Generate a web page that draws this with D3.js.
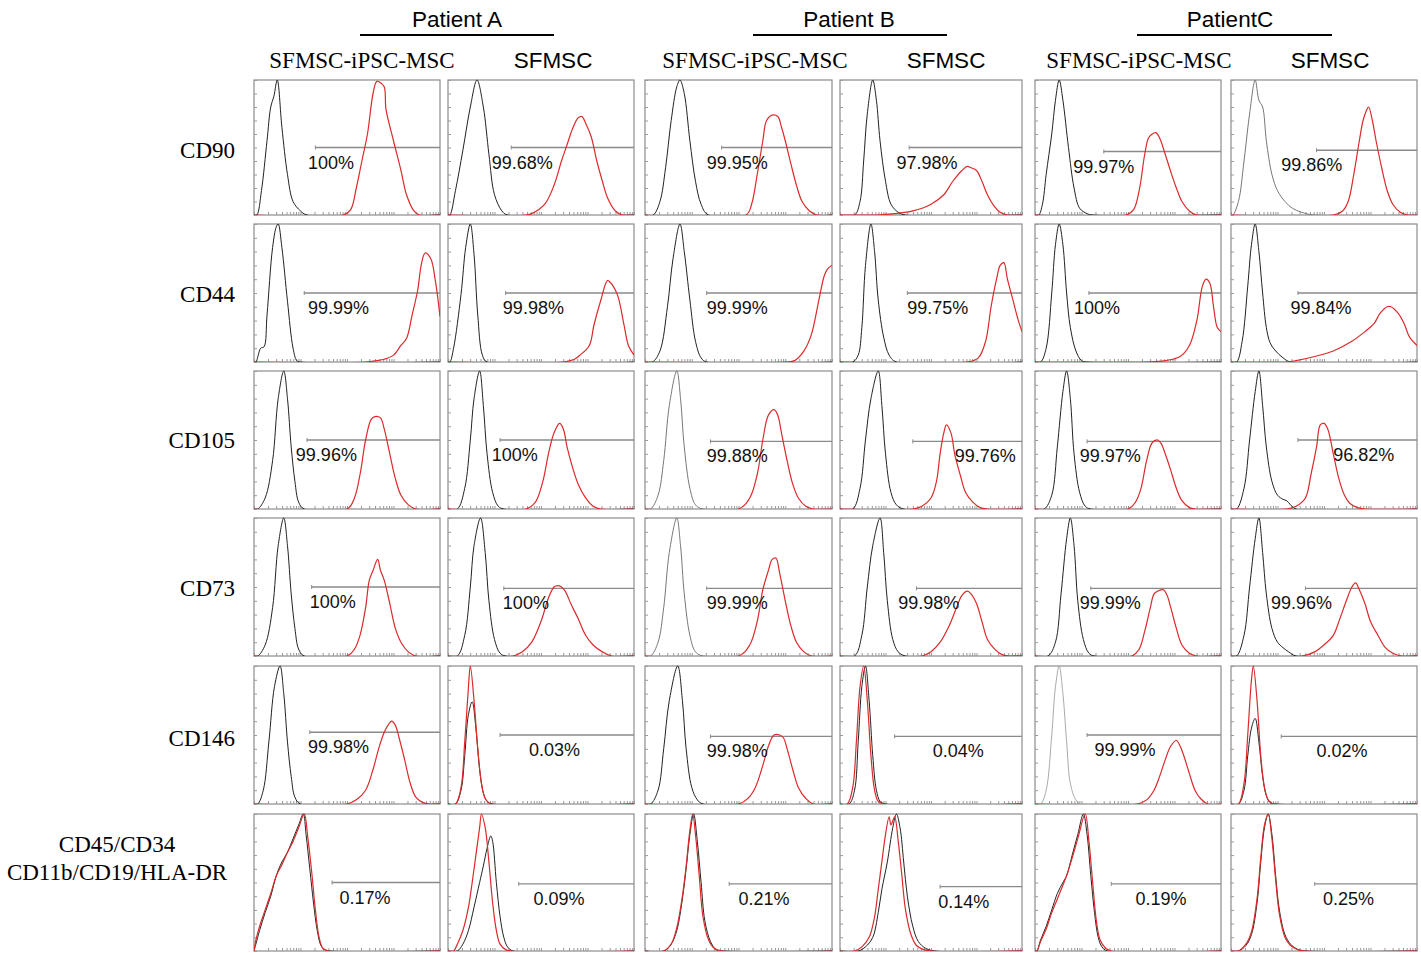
<!DOCTYPE html>
<html>
<head>
<meta charset="utf-8">
<script src="https://cdn.jsdelivr.net/npm/d3@7/dist/d3.min.js"></script>
<style>
  body { margin: 0; background: #fff; }
</style>
</head>
<body>
<div id="vis"></div>
<script>
// Flow cytometry overlays: isotype control (black) vs marker (red)
// x = fluorescence channel (0-100, log axis), y = % of max count

var patients = ["Patient A", "Patient B", "PatientC"];
var samples = ["SFMSC-iPSC-MSC", "SFMSC", "SFMSC-iPSC-MSC", "SFMSC", "SFMSC-iPSC-MSC", "SFMSC"];
var markers = ["CD90", "CD44", "CD105", "CD73", "CD146", "CD45/CD34\nCD11b/CD19/HLA-DR"];

var percents = [
    ["100%", "99.68%", "99.95%", "97.98%", "99.97%", "99.86%"],
    ["99.99%", "99.98%", "99.99%", "99.75%", "100%", "99.84%"],
    ["99.96%", "100%", "99.88%", "99.76%", "99.97%", "96.82%"],
    ["100%", "100%", "99.99%", "99.98%", "99.99%", "99.96%"],
    ["99.98%", "0.03%", "99.98%", "0.04%", "99.99%", "0.02%"],
    ["0.17%", "0.09%", "0.21%", "0.14%", "0.19%", "0.25%"]
];

// gate start (channel) and gate level (% of max)
var gateStart = [
    [33, 34, 41, 38, 37, 46],
    [27, 31, 33, 37, 29, 36],
    [28.5, 28, 35, 40, 28, 36],
    [31, 30, 33, 42, 30, 40],
    [30, 28, 35, 30, 28, 27],
    [42, 38, 45, 55, 41, 45]
];
var gateLevel = [
    [50, 50, 50, 50, 47, 48],
    [50, 50, 50, 50, 50, 50],
    [50, 50, 49, 49, 49, 50],
    [50, 49, 49, 49, 49, 49],
    [52, 50, 49, 49, 50, 49],
    [50, 49, 49, 47, 49, 49]
];

// isotype control histograms
var controlCurves = [
    [
        [[1.5,0],[4,18],[7,55],[9,80],[10.7,88],[12.5,100],[15,65],[18,30],[21,10],[25,3],[28.5,0]],
        [[1,0],[4,18],[8,48],[12,80],[15.6,100],[19,80],[22,45],[25,15],[29,3],[32,0]],
        [[4.4,0],[8,10],[11,35],[14,70],[17,95],[18.7,100],[21,90],[24,55],[27,25],[30,8],[34,0]],
        [[8,0],[11,10],[13,40],[15,75],[18,100],[20,85],[22,55],[25,25],[28,8],[32,2],[36,0]],
        [[2,0],[4,8],[6,30],[9,60],[11,85],[13,100],[15,85],[18,50],[21,20],[24,5],[28,1],[31,0]],
        [[1,0],[4,10],[7,40],[10,75],[13,100],[15,85],[17,80],[19,55],[22,30],[25,18],[29,10],[33,5],[38,2],[45,0]]
    ],
    [
        [[1,0],[3.6,10],[5.4,11],[7,34],[10,83],[12,98],[13,100],[15,83],[18,44],[21,10],[23,1],[25,0]],
        [[1,0],[3,10],[7,49],[9.5,83],[12,100],[14,78],[16,34],[18.5,5],[21,0]],
        [[4,0],[8,8],[12,40],[15,75],[18.7,100],[21,80],[24,45],[27,15],[30,3],[33,0]],
        [[7,0],[10,5],[12,25],[14,70],[17,100],[19,80],[21,45],[24,18],[27,5],[31,0]],
        [[3,0],[6,10],[9,50],[11,85],[13,100],[15,85],[17,50],[19,25],[22,8],[25,1],[28,0]],
        [[3,0],[6,15],[9,55],[11,85],[13,100],[15,80],[17,50],[19,25],[21,14],[24,8],[28,3],[32,0]]
    ],
    [
        [[2,0],[6,8],[10,35],[13,80],[16,100],[18,80],[20,45],[22,20],[24,5],[27,0]],
        [[5,0],[9,15],[12,50],[14,80],[17,100],[19,75],[21,40],[24,12],[27,2],[30,0]],
        [[3,0],[7,10],[10,35],[13,75],[17,100],[19,80],[21,45],[24,15],[27,3],[31,0]],
        [[7,0],[11,15],[14,50],[17,80],[21,100],[23,75],[25,40],[28,12],[31,3],[35,0]],
        [[5,0],[9,10],[12,45],[15,85],[17,100],[19,80],[21,40],[24,12],[27,2],[30,0]],
        [[3,0],[7,15],[10,50],[13,85],[15,100],[17,75],[19,45],[22,20],[25,10],[28,7],[30,6],[32,3],[35,0]]
    ],
    [
        [[2,0],[6,8],[10,35],[13,80],[16,100],[18,80],[20,45],[22,20],[24,5],[27,0]],
        [[5,0],[9,15],[12,50],[14,80],[17.5,100],[20,75],[22,40],[25,12],[28,2],[31,0]],
        [[3,0],[7,10],[10,35],[13,75],[17,100],[19,80],[21,45],[24,15],[27,3],[31,0]],
        [[8,0],[12,15],[15,50],[18,80],[22,100],[24,75],[26,40],[29,12],[32,3],[36,0]],
        [[7,0],[11,10],[14,45],[17,85],[19,100],[21,80],[23,40],[26,12],[29,2],[32,0]],
        [[3,0],[7,15],[10,50],[13,85],[15,100],[17,75],[19,45],[22,20],[25,10],[28,6],[31,3],[35,0]]
    ],
    [
        [[2,0],[5,10],[8,45],[11,85],[14,100],[16,80],[18,45],[20,20],[22,5],[25,0]],
        [[4,0],[7,10],[9,35],[11,65],[13,74],[15,55],[17,25],[19,8],[21,2],[24,0]],
        [[3,0],[7,10],[10,40],[13,75],[17.5,100],[20,75],[22,40],[25,12],[28,3],[31,0]],
        [[5,0],[8,10],[10,45],[12,85],[14,100],[16,75],[18,35],[20,10],[22,2],[25,0]],
        [[3,0],[6,10],[9,50],[11,85],[13,100],[15,80],[17,45],[19,15],[22,3],[25,0]],
        [[4,0],[7,10],[9,35],[11,55],[13,62],[15,45],[17,20],[19,6],[21,1],[24,0]]
    ],
    [
        [[0,0],[1,5],[3,15],[6,28],[9,40],[12,55],[15,65],[18,72],[21,82],[24,92],[26.5,100],[28,85],[30,60],[32,35],[34,15],[36,4],[38,1],[41,0]],
        [[5,0],[8,5],[11,15],[14,32],[17,50],[19,62],[21,75],[23,84],[24,80],[26,50],[28,25],[30,10],[32,3],[35,0]],
        [[10,0],[14,5],[17,15],[20,38],[22,60],[24,85],[26,100],[28,80],[30,50],[32,22],[35,7],[38,1],[42,0]],
        [[10,0],[14,3],[18,10],[21,28],[23,45],[26,65],[29,90],[31,100],[33,90],[35,65],[37,40],[40,18],[43,7],[47,2],[52,0]],
        [[1,0],[3,8],[6,18],[9,30],[12,42],[15,50],[17,55],[20,70],[23,85],[26,100],[28,85],[30,55],[32,28],[34,10],[36,3],[39,0]],
        [[4,0],[8,4],[11,12],[14,35],[16,65],[18,90],[20,100],[22,85],[24,55],[26,30],[29,12],[32,5],[36,1],[40,0]]
    ]
];

// marker-stained histograms
var markerCurves = [
    [
        [[48,0],[52,4],[55,20],[58,40],[61,60],[64,90],[66,99],[68,98],[70,95],[71,78],[75,55],[79,33],[82,15],[86,3],[89,0]],
        [[42,0],[45,1],[52,8],[57,22],[61,40],[64,52],[67,64],[70,72],[72,73],[74,68],[77,58],[80,40],[83,25],[86,12],[90,3],[94,0]],
        [[54,0],[57,8],[60,30],[63,55],[65,70],[68,74],[71,73],[73,65],[75,55],[78,38],[81,22],[84,10],[88,3],[92,0]],
        [[20,0],[30,1],[40,3],[50,8],[57,15],[62,25],[67,33],[70,36],[72,35],[75,33],[78,25],[81,15],[85,6],[88,2],[92,0]],
        [[49,0],[53,4],[56,18],[59,45],[61,57],[63,60],[65,61],[67,57],[70,45],[73,32],[76,20],[79,10],[83,3],[87,0]],
        [[55,0],[60,3],[63,10],[66,30],[69,55],[71,70],[73,78],[74,80],[76,70],[78,55],[81,35],[84,18],[87,8],[91,2],[95,0]]
    ],
    [
        [[60,0],[66,1],[70,2],[75,5],[79,12],[82,17],[85,34],[88,52],[90,71],[92,79],[95,75],[97.6,58],[100,33]],
        [[62,0],[68,2],[71,5],[76,12],[78.5,27],[82,44],[85.7,59],[87,58],[91,49],[94.6,27],[97,12],[100,5]],
        [[75,0],[80,1],[85,8],[89,20],[93,45],[96,63],[98,68],[100,70]],
        [[70,0],[76,3],[80,15],[83,40],[86,60],[88,70],[90,72],[92,60],[95,45],[98,30],[100,22]],
        [[60,0],[70,1],[78,4],[83,12],[87,30],[90,55],[92,60],[94,57],[96,40],[98,25],[100,22]],
        [[30,0],[35,1],[45,4],[55,8],[65,15],[72,22],[77,28],[80,35],[84,40],[86,40],[90,35],[93,28],[96,18],[100,12]]
    ],
    [
        [[50,0],[54,8],[57,25],[60,50],[63,65],[65,67],[68,66],[70,58],[73,40],[76,22],[79,10],[83,3],[87,0]],
        [[42,0],[47,5],[51,20],[54,40],[57,55],[60,62],[62,58],[64,45],[67,30],[70,18],[74,8],[78,2],[82,0]],
        [[50,0],[56,8],[60,25],[63,50],[66,68],[69,72],[71,68],[73,55],[76,35],[79,18],[82,8],[86,2],[90,0]],
        [[40,0],[45,2],[50,8],[53,20],[55,40],[57,55],[58.5,61],[61,55],[63,40],[66,25],[69,12],[73,5],[77,1],[81,0]],
        [[50,0],[54,5],[57,15],[60,35],[63,48],[66,50],[68,47],[70,40],[73,28],[76,15],[79,6],[83,1],[86,0]],
        [[30,0],[35,2],[40,8],[43,25],[46,45],[48,61],[50,62],[52,58],[55,40],[58,22],[61,10],[64,4],[68,1],[72,0]]
    ],
    [
        [[50,0],[54,5],[57,15],[60,35],[62,55],[64,62],[66.5,70],[68,62],[70,55],[73,38],[76,20],[79,10],[83,3],[87,0]],
        [[35,0],[40,3],[45,10],[50,25],[54,42],[57,50],[59,51],[61,50],[63,47],[66,38],[70,27],[74,15],[78,8],[83,3],[88,0]],
        [[50,0],[56,8],[60,25],[63,48],[66,62],[68,70],[70,71],[72,60],[75,40],[78,22],[81,10],[85,3],[89,0]],
        [[45,0],[50,3],[55,10],[60,22],[64,35],[67,44],[70,47],[72,45],[75,38],[78,25],[81,12],[85,5],[89,1],[93,0]],
        [[52,0],[56,5],[59,18],[62,35],[64,45],[66,47],[69,48],[71,44],[73,35],[76,20],[79,8],[83,2],[87,0]],
        [[38,0],[45,3],[50,8],[55,15],[58,25],[62,40],[65,50],[67,53],[69,48],[72,38],[75,25],[79,15],[83,6],[87,2],[92,0]]
    ],
    [
        [[50,0],[55,3],[60,10],[64,25],[67,40],[70,52],[72,57],[74,60],[76,57],[78,48],[81,32],[84,15],[87,5],[91,1],[94,0]],
        [[4,0],[7,12],[9,45],[11,85],[12,100],[14,75],[16,40],[18,15],[20,4],[23,0]],
        [[50,0],[55,4],[59,12],[63,28],[66,42],[69,50],[72,50],[74,48],[76,40],[79,25],[82,12],[86,4],[90,0]],
        [[4,0],[7,12],[9,45],[11,85],[13,100],[15,75],[17,35],[19,10],[21,2],[24,0]],
        [[55,0],[60,3],[64,10],[67,20],[70,32],[73,42],[76,46],[78,42],[80,35],[83,22],[86,10],[89,4],[93,0]],
        [[4,0],[7,15],[9,50],[11,90],[12,100],[14,75],[16,35],[18,12],[20,3],[23,0]]
    ],
    [
        [[0,0],[1,8],[3,18],[6,30],[9,42],[12,55],[15,63],[18,72],[21,80],[24,90],[27,100],[29,82],[31,58],[33,30],[35,10],[37,2],[40,0]],
        [[3,0],[5,5],[8,15],[11,32],[13,50],[15,70],[17,90],[18,100],[20,90],[22,65],[24,35],[26,15],[28,5],[31,1],[34,0]],
        [[10,0],[14,5],[17,17],[20,40],[22,62],[24,88],[25.5,100],[27,85],[29,55],[31,25],[34,8],[37,2],[41,0]],
        [[8,0],[12,3],[16,10],[19,25],[21,45],[23,65],[25,85],[27,98],[28,92],[30,98],[32,80],[34,55],[36,30],[39,12],[42,4],[46,1],[50,0]],
        [[1,0],[3,7],[6,16],[9,28],[12,38],[15,48],[17,55],[20,68],[23,82],[27,100],[29,80],[31,50],[33,22],[35,8],[38,2],[41,0]],
        [[4,0],[8,5],[11,14],[14,38],[16,68],[18,92],[20,100],[22,82],[24,52],[26,27],[29,10],[32,4],[36,1],[40,0]]
    ]
];

////////////////////////////////////////////////////////////
// layout

var colX = [254, 448, 645, 840, 1035, 1231];
var colW = [186, 186, 187, 182, 186, 186];
var rowY = [80, 224, 371, 518, 666, 814];
var rowH = [135, 138, 138, 138, 138, 137];

// where each % label starts, as share of panel width
var labelPos = [
    [29, 23.5, 33, 31, 20.5, 27],
    [29, 29.5, 33, 37, 21, 32],
    [22.5, 23.5, 33, 63, 24, 55],
    [30, 29.5, 33, 32, 24, 21.5],
    [29, 43.5, 33, 51, 32, 46],
    [46, 46, 50, 54, 54, 49.5]
];

// control curves drawn in gray in these panels
var grayControl = { "0-5": "#777", "2-2": "#777", "3-2": "#777", "4-4": "#aaa" };

var serif = "'Liberation Serif', 'Times New Roman', serif";
var sans = "'Liberation Sans', Arial, sans-serif";

var svg = d3.select("#vis")
    .append("svg")
    .attr("width", 1421)
    .attr("height", 953);

// headers
var patientCenter = [457, 849, 1230];
var lineSpan = [[360, 554], [753, 947], [1137, 1332]];

patients.forEach(function(p, i) {
    svg.append("text")
        .attr("x", patientCenter[i])
        .attr("y", 27)
        .attr("text-anchor", "middle")
        .style("font-family", sans)
        .style("font-size", "22.5px")
        .text(p);
    svg.append("line")
        .attr("x1", lineSpan[i][0]).attr("x2", lineSpan[i][1])
        .attr("y1", 35).attr("y2", 35)
        .attr("stroke", "#000")
        .attr("stroke-width", 2);
});

var sampleCenter = [362, 553, 755, 946, 1139, 1330];
samples.forEach(function(s, i) {
    svg.append("text")
        .attr("x", sampleCenter[i])
        .attr("y", 68)
        .attr("text-anchor", "middle")
        .style("font-family", i % 2 == 0 ? serif : sans)
        .style("font-size", i % 2 == 0 ? "23px" : "22.5px")
        .text(s);
});

// row labels
var labelBase = [158, 302, 448, 596, 746];
markers.forEach(function(m, r) {
    if (r < 5) {
        svg.append("text")
            .attr("x", 235)
            .attr("y", labelBase[r])
            .attr("text-anchor", "end")
            .style("font-family", serif)
            .style("font-size", "23px")
            .text(m);
    } else {
        m.split("\n").forEach(function(line, k) {
            svg.append("text")
                .attr("x", 117)
                .attr("y", 852 + k * 28)
                .attr("text-anchor", "middle")
                .style("font-family", serif)
                .style("font-size", "23px")
                .text(line);
        });
    }
});

////////////////////////////////////////////////////////////
// panels

markers.forEach(function(m, r) {
    samples.forEach(function(s, c) {
        var w = colW[c], h = rowH[r];
        var g = svg.append("g")
            .attr("transform", "translate(" + colX[c] + "," + rowY[r] + ")");

        var x = d3.scaleLinear().domain([0, 100]).range([0, w]);
        var y = d3.scaleLinear().domain([0, 100]).range([h, 0]);
        var xLog = d3.scaleLog().domain([1, 1e4]).range([0, w]);

        var clipId = "clip-" + r + "-" + c;
        g.append("clipPath").attr("id", clipId)
            .append("rect").attr("y", -2).attr("width", w).attr("height", h + 2);

        g.append("rect")
            .attr("width", w)
            .attr("height", h)
            .attr("fill", "#fff")
            .attr("stroke", "#8c8c8c")
            .attr("stroke-width", 1.2);

        // inner ticks
        var yAxis = d3.axisRight(y).tickValues(d3.range(0, 101, 10)).tickSize(3).tickFormat("");
        g.append("g").call(yAxis)
            .call(function(a) { a.select(".domain").remove(); })
            .selectAll("line").attr("stroke", "#999");

        var xAxis = d3.axisTop(xLog).tickSize(3).tickFormat("");
        g.append("g").attr("transform", "translate(0," + h + ")").call(xAxis)
            .call(function(a) { a.select(".domain").remove(); })
            .selectAll("line").attr("stroke", "#999");

        // gate
        var gy = y(gateLevel[r][c]);
        g.append("line")
            .attr("x1", x(gateStart[r][c])).attr("x2", w)
            .attr("y1", gy).attr("y2", gy)
            .attr("stroke", "#8a8a8a")
            .attr("stroke-width", 1.4);
        g.append("line")
            .attr("x1", x(gateStart[r][c])).attr("x2", x(gateStart[r][c]))
            .attr("y1", gy - 2).attr("y2", gy + 2)
            .attr("stroke", "#8a8a8a");

        var line = d3.line()
            .x(function(d) { return x(d[0]); })
            .y(function(d) { return y(d[1]); })
            .curve(d3.curveCatmullRom.alpha(0.5));

        function full(pts) {
            var out = pts.slice();
            if (out[0][0] > 0) out.unshift([0, 0]);
            if (out[out.length - 1][0] < 100) out.push([100, 0]);
            return out;
        }

        var plot = g.append("g").attr("clip-path", "url(#" + clipId + ")");

        plot.append("path")
            .datum(full(controlCurves[r][c]))
            .attr("fill", "none")
            .attr("stroke", grayControl[r + "-" + c] || "#222")
            .attr("stroke-width", 1)
            .attr("stroke-linejoin", "round")
            .attr("d", line);

        plot.append("path")
            .datum(full(markerCurves[r][c]))
            .attr("fill", "none")
            .attr("stroke", "#dc2a2a")
            .attr("stroke-width", 1.2)
            .attr("stroke-linejoin", "round")
            .attr("d", line);

        g.append("text")
            .attr("x", w * labelPos[r][c] / 100)
            .attr("y", gy + 21)
            .style("font-family", sans)
            .style("font-size", "18px")
            .attr("fill", "#111")
            .text(percents[r][c]);
    });
});
</script>
</body>
</html>
